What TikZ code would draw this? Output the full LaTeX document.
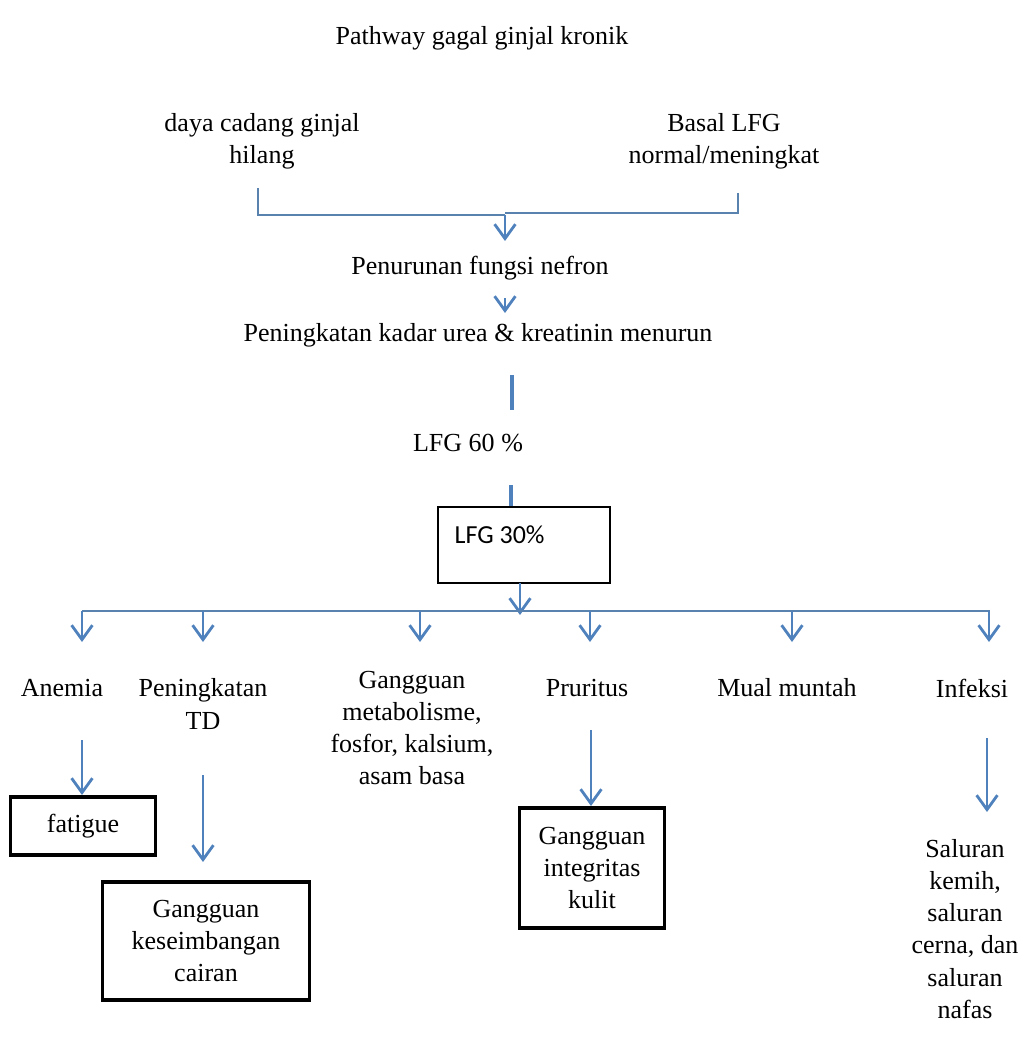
\documentclass[tikz,border=0pt]{standalone}
\usepackage{fontspec}
\setmainfont{Liberation Serif}
\newfontfamily\calibrifont{Carlito}
\usetikzlibrary{arrows.meta, calc}

\definecolor{pathblue}{RGB}{79,129,189}
\definecolor{linkblue}{RGB}{90,130,175}

\tikzset{
    plain/.style = {font = \fontsize{18.5}{22.8}\selectfont, align = center, inner sep = 0pt},
    thickbox/.style = {draw, line width = 2.2pt, minimum width = #1, inner sep = 0pt},
    flow/.style = {pathblue, line width = 2pt, -{Straight Barb[length = 3.6mm, width = 5.2mm]}},
    joint/.style = {linkblue, line width = 1pt},
    bar/.style = {pathblue, line width = 2.6pt}
}

\begin{document}
\begin{tikzpicture}[x = 0.025cm, y = -0.025cm]

        \useasboundingbox (0, 0) rectangle (1019, 1037);

        % Title and the two causes at the top.
        \node (title) at (482, 38) [plain] {Pathway gagal ginjal kronik};
        \node (reserve) at (262, 141) [plain] {daya cadang ginjal\\hilang};
        \node (basal) at (724, 141) [plain] {Basal LFG\\normal/meningkat};

        % Points of the bracket that joins the two causes.
        \coordinate (RL) at (258, 188);
        \coordinate (RB) at (258, 215);
        \coordinate (BL) at (738, 193);
        \coordinate (BB) at (738, 213);
        \coordinate (M) at (505, 215);
        \coordinate (MR) at (505, 213);

        \draw [joint] (RL) to (RB) to (M);
        \draw [joint] (MR) to (BB) to (BL);

        % The chain down the middle.
        \node (nefron) at (480, 268) [plain] {Penurunan fungsi nefron};
        \node (urea) at (478, 335) [plain] {Peningkatan kadar urea \& kreatinin menurun};
        \node (lfg60) at (468, 443) [plain] {LFG 60 \%};

        \coordinate (A1) at (505, 241);
        \coordinate (S1) at (505, 298);
        \coordinate (S2) at (505, 313);
        \coordinate (T1) at (512, 375);
        \coordinate (T2) at (512, 410);
        \coordinate (T3) at (511, 485);
        \coordinate (T4) at (511, 506);

        \draw [flow] (M) to (A1);
        \draw [flow] (S1) to (S2);
        \draw [bar] (T1) to (T2);
        \draw [bar] (T3) to (T4);

        % Box for LFG 30%.
        \node (lfg30) at (524, 545) [draw, line width = 0.9pt, minimum width = 4.3cm, minimum height = 1.9cm] {};
        \node (lfg30text) at ($(lfg30.north west)+(17, 28)$) [anchor = west, font = \calibrifont\fontsize{18.5}{22}\selectfont, inner sep = 0pt] {LFG 30\%};

        % Branch line under the box.
        \coordinate (H0) at (520, 583);
        \coordinate (H) at (520, 615);
        \coordinate (HL) at (82, 611);
        \coordinate (HR) at (990, 611);

        \draw [flow] (H0) to (H);
        \draw [joint] (HL) to (HR);

        % The six results along the branch line.
        \node (anemia) at (62, 688) [plain] {Anemia};
        \node (td) at (203, 704) [plain] {Peningkatan\\TD};
        \node (meta) at (412, 728) [plain] {Gangguan\\metabolisme,\\fosfor, kalsium,\\asam basa};
        \node (pruritus) at (587, 688) [plain] {Pruritus};
        \node (mual) at (787, 688) [plain] {Mual muntah};
        \node (infeksi) at (972, 688) [plain] {Infeksi};

        \foreach \x in {82, 203, 420, 590, 792, 989}
            \draw [flow] (\x, 611) to (\x, 642);

        % Last row of effects.
        \node (fatigue) at (83, 826) [plain, thickbox = 3.625cm, minimum height = 1.45cm] {fatigue};
        \node (cairan) at (206, 941) [plain, thickbox = 5.175cm, minimum height = 2.95cm] {Gangguan\\keseimbangan\\cairan};
        \node (kulit) at (592, 868) [plain, thickbox = 3.625cm, minimum height = 3cm] {Gangguan\\integritas\\kulit};
        \node (saluran) at (965, 929) [plain] {Saluran\\kemih,\\saluran\\cerna, dan\\saluran\\nafas};

        \coordinate (F0) at (82, 740);
        \coordinate (F1) at (82, 795);
        \coordinate (C0) at (203, 775);
        \coordinate (C1) at (203, 862);
        \coordinate (K0) at (591, 730);
        \coordinate (K1) at (591, 806);
        \coordinate (I0) at (987, 738);
        \coordinate (I1) at (987, 812);

        \draw [flow] (F0) to (F1);
        \draw [flow] (C0) to (C1);
        \draw [flow] (K0) to (K1);
        \draw [flow] (I0) to (I1);
    \end{tikzpicture}
\end{document}
